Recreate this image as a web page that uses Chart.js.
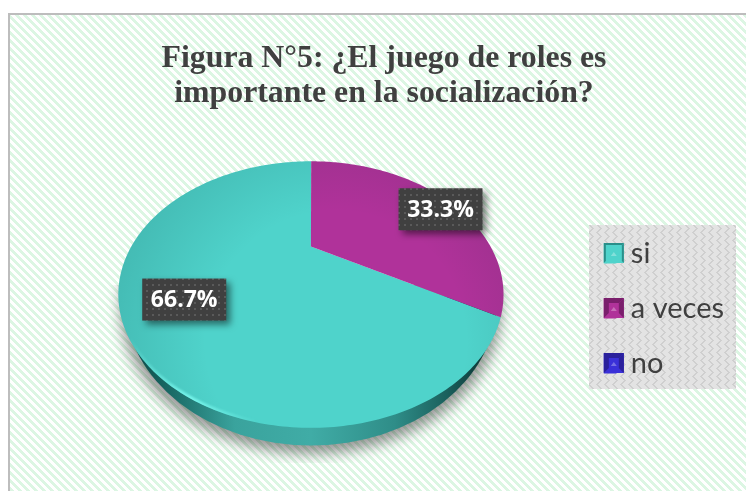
<!DOCTYPE html>
<html><head><meta charset="utf-8">
<style>html,body{margin:0;padding:0;background:#fff;overflow:hidden;width:746px;height:491px}canvas{display:block}</style>
<script src="https://cdn.jsdelivr.net/npm/chart.js@4/dist/chart.umd.min.js"></script>
</head><body><canvas id="c" width="768" height="491" style="width:768px;height:491px"></canvas>
<script>
const categories = ['si', 'a veces', 'no'];
const values = [66.7, 33.3, 0];
const sliceColors = ['#4fd3cb', '#b0329a', '#3a30d8'];
const bevelDark = ['#2a8f8a', '#7a1f6c', '#2a209c'];
const bevelWidth = [2, 5, 5];
const labelReach = [0.71, 0.98];
const labelDrop = [6, 11];
const titleLines = ['Figura N°5: ¿El juego de roles es', 'importante en la socialización?'];

function tile(size, paint){const t=document.createElement('canvas');t.width=t.height=size;paint(t.getContext('2d'));return t;}
const hatch = tile(8,g=>{g.fillStyle='#fff';g.fillRect(0,0,8,8);g.fillStyle='#dcf6e3';
  for(let y=0;y<8;y++)for(let x=0;x<8;x++)if(((x-y)%8+8)%8<4)g.fillRect(x,y,1,1);});
const greyHatch = tile(8,g=>{g.fillStyle='#e3e3e3';g.fillRect(0,0,8,8);g.fillStyle='#cfcfcf';
  for(let y=0;y<8;y++)for(let x=0;x<8;x++)if((x+Math.abs(y-4))%8<2)g.fillRect(x,y,1,1);});
const dots = tile(6,g=>{g.fillStyle='#404040';g.fillRect(0,0,6,6);g.fillStyle='#5a5a5a';g.fillRect(2,2,2,2);});

// perspective projection of the unit pie disc onto the screen
const P={shiftX:5,shiftY:-62,c:-0.361,a:0.75,kx:1.162};
function project(arc,x,y){
  const d=1+P.c*y,R=arc.outerRadius;
  return [arc.x+P.shiftX+R*P.kx*x/d, arc.y+P.shiftY+R*P.a*y/d];
}
function pieRimPath(ctx,arc){
  ctx.beginPath();
  for(let i=0;i<=360;i++){const t=i*Math.PI/180;const p=project(arc,Math.cos(t),Math.sin(t));i?ctx.lineTo(p[0],p[1]):ctx.moveTo(p[0],p[1]);}
  ctx.closePath();
}
const paintPlugin={
  id:'paint',
  beforeDraw(chart){
    const ctx=chart.ctx;ctx.save();
    ctx.fillStyle='#fff';ctx.fillRect(0,0,chart.width,chart.height);
    ctx.fillStyle=ctx.createPattern(hatch,'repeat');ctx.fillRect(8,13,chart.width-8,chart.height-13);
    ctx.fillStyle='#bdbdbd';ctx.fillRect(8,13,chart.width-8,2);ctx.fillRect(8,13,2,chart.height-13);
    ctx.fillStyle=ctx.createPattern(greyHatch,'repeat');ctx.fillRect(589,225,147,164);
    ctx.restore();
  },
  beforeDatasetDraw(chart){
    const ctx=chart.ctx,arcs=chart.getDatasetMeta(0).data,first=arcs[0];
    const cx=first.x+P.shiftX,topY=first.y+P.shiftY;
    ctx.save();
    // soft shadow under the disc (only the blur is kept)
    ctx.save();
    ctx.beginPath();ctx.rect(0,285,chart.width,463-285);ctx.clip();
    ctx.shadowColor='rgba(0,0,0,0.42)';ctx.shadowBlur=14;ctx.shadowOffsetX=3000;ctx.shadowOffsetY=0;
    ctx.fillStyle='#000';
    ctx.beginPath();ctx.ellipse(cx-3000,topY+61,190,146,0,0,Math.PI*2);ctx.fill();
    ctx.restore();
    // side wall
    ctx.save();
    ctx.beginPath();ctx.rect(0,topY+50,chart.width,chart.height);ctx.clip();
    const wall=ctx.createLinearGradient(cx-190,0,cx+190,0);
    wall.addColorStop(0,'#0c3f3d');wall.addColorStop(0.1,'#14605c');wall.addColorStop(0.3,'#3aa39d');
    wall.addColorStop(0.5,'#40aca6');wall.addColorStop(0.72,'#2f8d88');wall.addColorStop(0.86,'#1a5f5c');wall.addColorStop(0.95,'#0d3a38');wall.addColorStop(1,'#0d3a38');
    ctx.fillStyle=wall;
    ctx.beginPath();ctx.ellipse(cx,topY+54,186,145,0,0,Math.PI*2);ctx.fill();
    ctx.restore();
    // slices of the top face
    arcs.forEach((arc,i)=>{
      if(arc.endAngle-arc.startAngle<1e-4)return;
      const {startAngle,endAngle}=arc;
      const n=Math.ceil((endAngle-startAngle)*60);
      ctx.beginPath();
      const c0=project(arc,0,0);ctx.moveTo(c0[0],c0[1]);
      for(let k=0;k<=n;k++){const t=startAngle+(endAngle-startAngle)*k/n;const p=project(arc,Math.cos(t),Math.sin(t));ctx.lineTo(p[0],p[1]);}
      ctx.closePath();
      ctx.fillStyle=sliceColors[i];ctx.fill();
    });
    // bevel shading clipped to the disc
    ctx.save();
    pieRimPath(ctx,first);ctx.clip();
    const shade=ctx.createRadialGradient(cx+25,topY+95,130,cx+25,topY+95,235);
    shade.addColorStop(0,'rgba(0,40,40,0)');shade.addColorStop(1,'rgba(0,40,40,0.15)');
    ctx.fillStyle=shade;ctx.fillRect(0,0,chart.width,chart.height);
    ctx.restore();
    // bright rim on the lower left
    ctx.save();
    pieRimPath(ctx,first);ctx.clip();
    ctx.beginPath();ctx.rect(0,topY+80,cx-30,chart.height);ctx.clip();
    const glow=ctx.createLinearGradient(cx-185,topY+95,cx-50,topY+170);
    glow.addColorStop(0,'rgba(125,250,240,0)');glow.addColorStop(0.55,'rgba(125,250,240,0.9)');glow.addColorStop(1,'rgba(125,250,240,0)');
    pieRimPath(ctx,first);
    ctx.strokeStyle=glow;ctx.lineWidth=5;ctx.filter='blur(1.2px)';ctx.stroke();
    ctx.restore();
    ctx.restore();
    return false;
  },
  afterDraw(chart){
    const ctx=chart.ctx,arcs=chart.getDatasetMeta(0).data,total=values.reduce((a,b)=>a+b,0);
    ctx.save();
    // value tags
    ctx.font='bold 23px "Open Sans"';ctx.textAlign='center';ctx.textBaseline='middle';
    arcs.forEach((arc,i)=>{
      if(!values[i])return;
      const mid=(arc.startAngle+arc.endAngle)/2,r=labelReach[i];
      const p=project(arc,r*Math.cos(mid),r*Math.sin(mid));
      const x=p[0],y=p[1]+labelDrop[i];
      ctx.save();
      ctx.shadowColor='rgba(0,0,0,0.5)';ctx.shadowBlur=7;ctx.shadowOffsetX=4;ctx.shadowOffsetY=4;
      ctx.fillStyle=ctx.createPattern(dots,'repeat');ctx.fillRect(x-42,y-21,84,42);
      ctx.restore();
      ctx.fillStyle='#fff';
      ctx.fillText((values[i]/total*100).toFixed(1)+'%',x,y+1);
    });
    // bevelled legend keys
    chart.legend.legendHitBoxes.forEach((h,i)=>{
      const x=h.left,y=Math.round(h.top+h.height/2-10),s=20,b=bevelWidth[i];
      ctx.fillStyle=sliceColors[i];ctx.fillRect(x,y,s,s);
      ctx.fillStyle=bevelDark[i];
      ctx.beginPath();ctx.moveTo(x,y);ctx.lineTo(x+s,y);ctx.lineTo(x+s-b,y+b);ctx.lineTo(x+b,y+b);ctx.lineTo(x+b,y+s-b);ctx.lineTo(x,y+s);ctx.closePath();ctx.fill();
      ctx.beginPath();ctx.moveTo(x+s,y);ctx.lineTo(x+s,y+s);ctx.lineTo(x+s-b,y+s-b);ctx.lineTo(x+s-b,y+b);ctx.closePath();ctx.fill();
      ctx.fillStyle='rgba(255,255,255,0.3)';
      ctx.beginPath();ctx.moveTo(x+s/2,y+s/2-1);ctx.lineTo(x+s/2+3,y+s/2+3);ctx.lineTo(x+s/2-3,y+s/2+3);ctx.closePath();ctx.fill();
    });
    ctx.restore();
  }
};
new Chart(document.getElementById('c'),{
  type:'pie',
  data:{labels:categories,datasets:[{data:values,backgroundColor:sliceColors,borderWidth:0}]},
  plugins:[paintPlugin],
  options:{
    responsive:false,animation:false,rotation:120,
    layout:{padding:{left:34,right:34,top:0,bottom:28}},
    plugins:{
      tooltip:{enabled:false},
      title:{display:true,text:titleLines,color:'#404040',
        font:{family:'"Liberation Serif"',size:31.8,weight:'bold',lineHeight:1.115},
        padding:{top:41,bottom:42}},
      legend:{position:'right',fullSize:false,
        labels:{boxWidth:12.5,boxHeight:20,padding:26,color:'#404040',font:{family:'Lato',size:29}}}
    }
  }
});
</script></body></html>
